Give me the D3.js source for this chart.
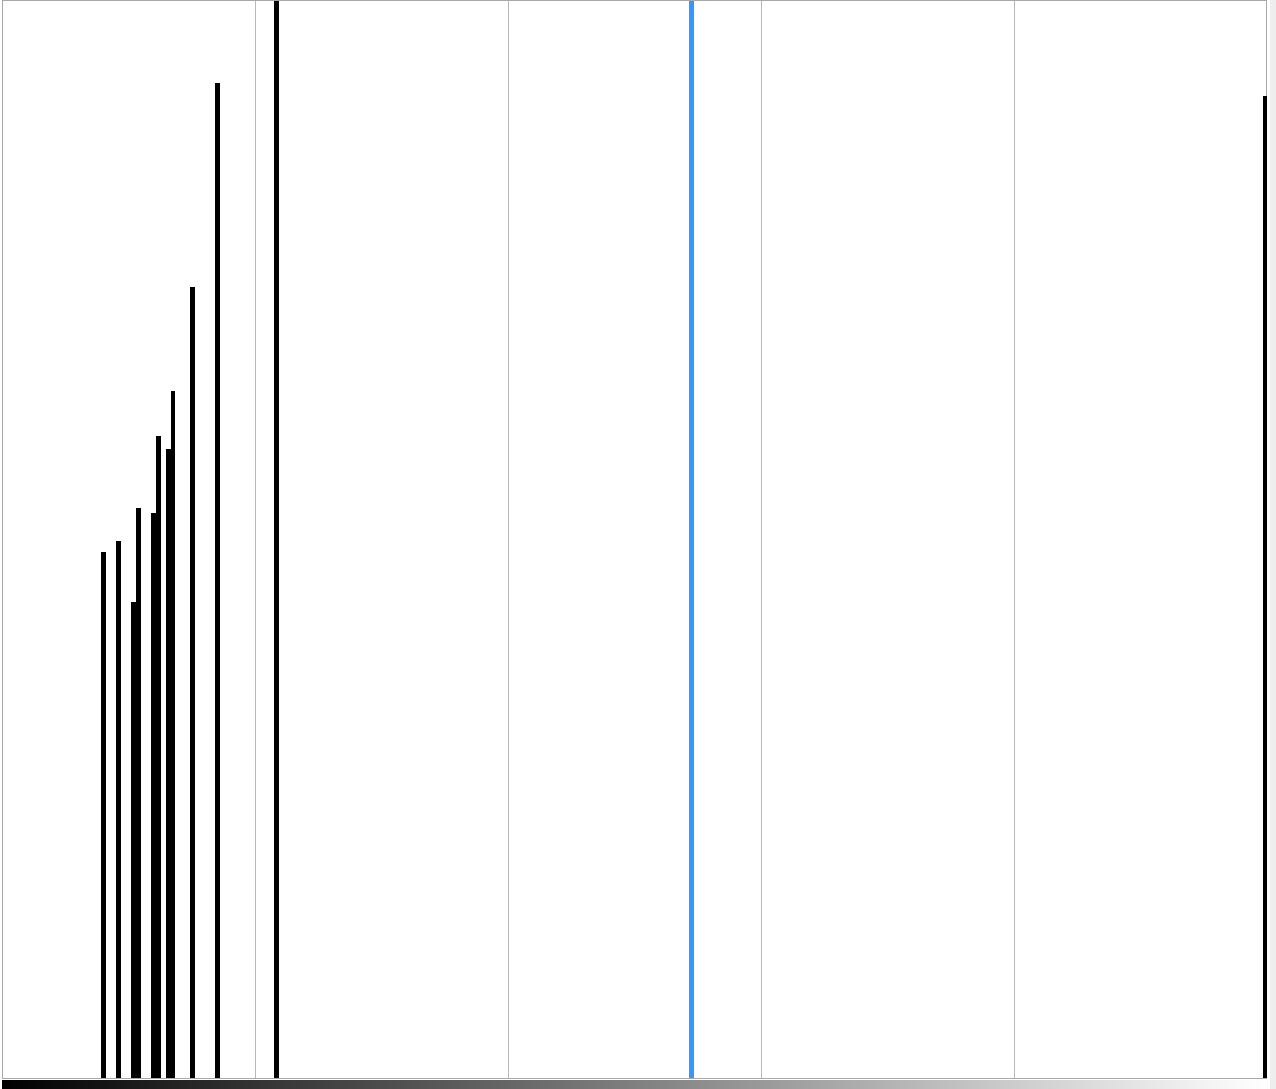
<!DOCTYPE html>
<html>
<head>
<meta charset="utf-8">
<script src="https://cdn.jsdelivr.net/npm/d3@7/dist/d3.min.js"></script>
<style>
html,body{margin:0;padding:0;background:#fff;overflow:hidden;}
svg{display:block;}
</style>
</head>
<body>
<script>
// Histogram levels (0-255) and their counts (relative units)
const levels = [20, 23, 26, 27, 30, 31, 33, 34, 38, 43, 55, 255];
const counts = [488, 499, 442, 529, 525, 596, 584, 638, 734, 924, 1400, 912];
const markerLevel = [139];
const gridFractions = [1, 2, 3, 4];
const binCount = 256;
const maxCount = 1000;

const W = 1276, H = 1089;
const svg = d3.select("body").append("svg").attr("width", W).attr("height", H);

const x = d3.scaleLinear().domain([0, binCount]).range([2, 1267]);
const y = d3.scaleLinear().domain([0, maxCount]).range([1078, 1]).clamp(true);
const px = v => Math.ceil(x(v) - 1e-9);

// right light strip
svg.append("rect").attr("x", 1270).attr("y", 0).attr("width", 6).attr("height", H).attr("fill", "#eeeeee");

// gradient
const defs = svg.append("defs");
const g = defs.append("linearGradient").attr("id", "grad").attr("x1", "0%").attr("x2", "100%");
g.append("stop").attr("offset", "0%").attr("stop-color", "#000");
g.append("stop").attr("offset", "100%").attr("stop-color", "#fff");
svg.append("rect").attr("x", x(0)).attr("y", 1080).attr("width", x(binCount) - x(0)).attr("height", 12).attr("fill", "url(#grad)");

// grid lines
svg.selectAll("line.grid").data(gridFractions).enter().append("line")
  .attr("class", "grid")
  .attr("x1", d => Math.round(x(binCount * d / 5)) + 0.5)
  .attr("x2", d => Math.round(x(binCount * d / 5)) + 0.5)
  .attr("y1", 0).attr("y2", 1079)
  .attr("stroke", "#b8b8b8").attr("stroke-width", 1);

// border
svg.append("rect").attr("x", 2.5).attr("y", 0.5).attr("width", 1264).attr("height", 1078)
  .attr("fill", "none").attr("stroke", "#a8a8a8").attr("stroke-width", 1);

// marker (selected level)
svg.selectAll("rect.marker").data(markerLevel).enter().append("rect")
  .attr("class", "marker")
  .attr("x", d => px(d))
  .attr("width", d => px(d + 1) - px(d))
  .attr("y", 1).attr("height", 1077)
  .attr("fill", "#3399ff").attr("shape-rendering", "crispEdges");

// bars
svg.selectAll("rect.bar").data(levels.map((l, i) => ({l, c: counts[i]}))).enter().append("rect")
  .attr("class", "bar")
  .attr("x", d => px(d.l))
  .attr("width", d => px(d.l + 1) - px(d.l))
  .attr("y", d => Math.round(y(d.c)))
  .attr("height", d => 1078 - Math.round(y(d.c)))
  .attr("fill", "#000").attr("shape-rendering", "crispEdges");
</script>
</body>
</html>
